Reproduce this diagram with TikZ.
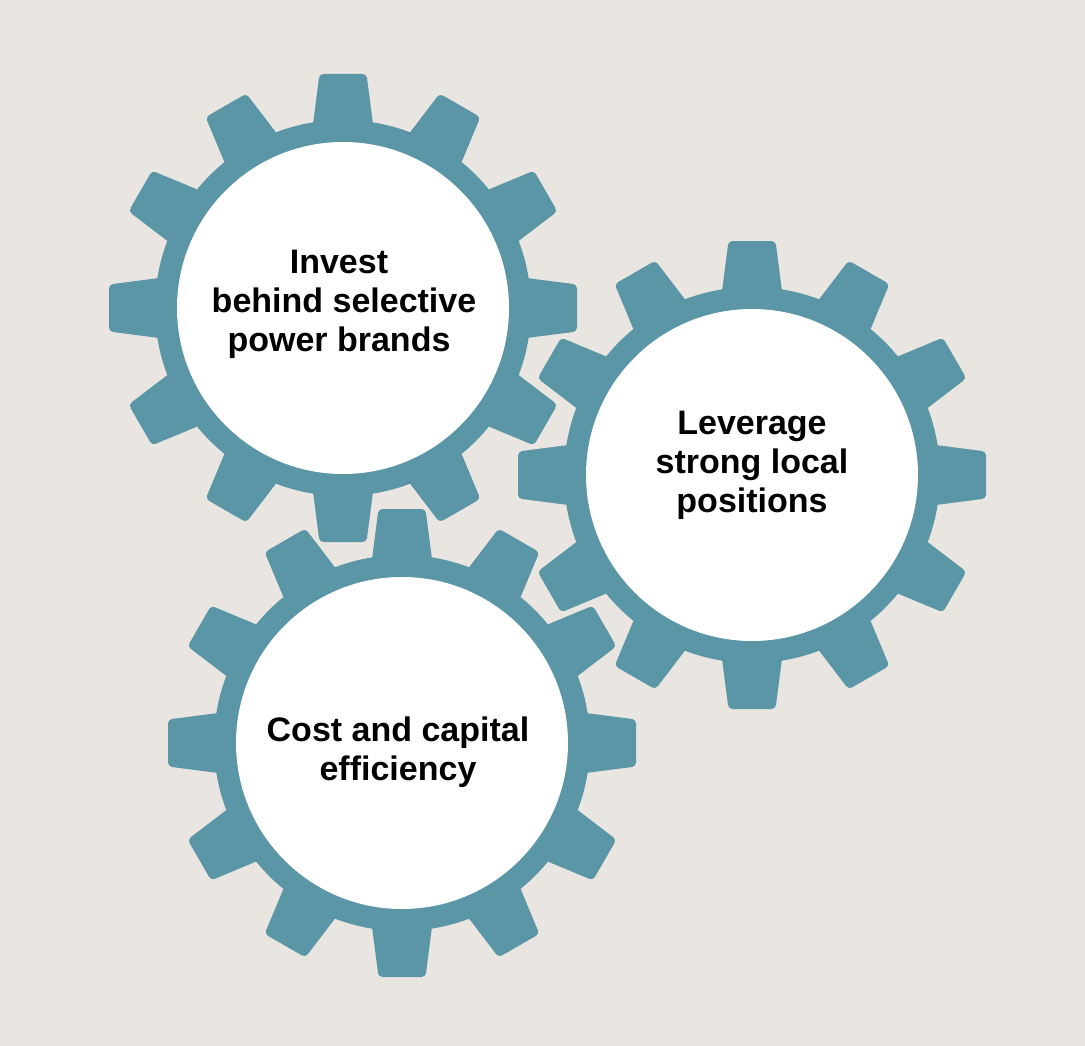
\documentclass[tikz,border=0pt]{standalone}
\usepackage{fontspec}
\setmainfont{Liberation Sans}
\definecolor{gearteal}{HTML}{5B96A6}
\definecolor{paper}{HTML}{E9E6E1}
\tikzset{
  gearbody/.style={fill=gearteal,draw=none},
  geartooth/.style={fill=gearteal,draw=none,rounded corners=4pt},
  gearhole/.style={circle,fill=white,draw=none,inner sep=0pt,minimum size=332pt},
  gearlabel/.style={align=center,font=\bfseries\fontsize{34}{39}\selectfont,text=black,inner sep=0pt}
}
\newcommand{\gearat}[3]{%
  \fill[gearbody] (#1,#2) circle[radius=188];
  \foreach \a in {0,30,...,330}{%
    \begin{scope}[shift={(#1,#2)},rotate=\a]
      \fill[geartooth] (176,-31) -- (234,-23.5) -- (234,23.5) -- (176,31) -- cycle;
    \end{scope}
  }%
  \node[gearhole] (#3) at (#1,#2) {};
}
\begin{document}
\begin{tikzpicture}[x=1pt,y=-1pt]
\fill[paper] (0,0) rectangle (1085,1046);
\useasboundingbox (0,0) rectangle (1085,1046);
\gearat{343}{308}{gearA}
\gearat{752}{475}{gearB}
\gearat{402}{743}{gearC}
\node[gearlabel] (labelA) at (344,304.5) {Invest\hspace*{10pt}\\behind selective\\power brands\hspace*{10pt}};
\node[gearlabel] (labelB) at (752,465.5) {Leverage\\strong local\\positions};
\node[gearlabel] (labelC) at (398,752.5) {Cost and capital\\efficiency};
\end{tikzpicture}
\end{document}
